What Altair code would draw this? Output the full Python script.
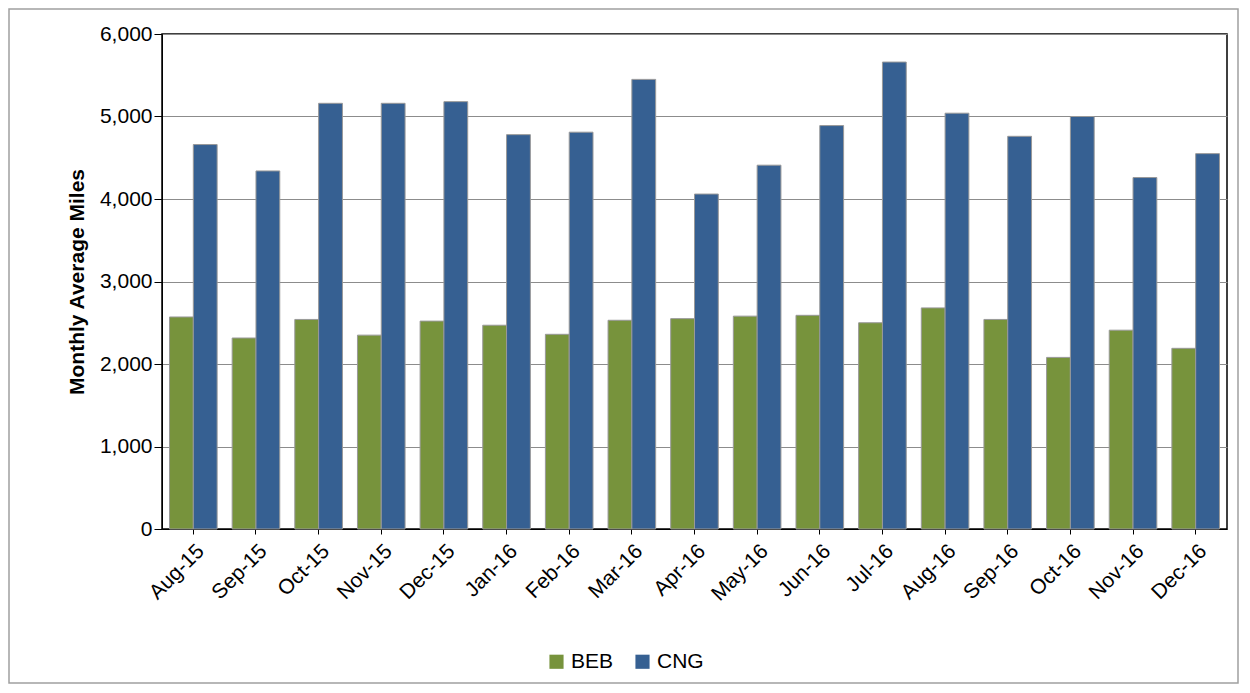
import pandas as pd
import altair as alt

# months and series values
months = ["Aug-15", "Sep-15", "Oct-15", "Nov-15", "Dec-15", "Jan-16", "Feb-16", "Mar-16", "Apr-16",
          "May-16", "Jun-16", "Jul-16", "Aug-16", "Sep-16", "Oct-16", "Nov-16", "Dec-16"]
beb = [2570, 2315, 2540, 2350, 2520, 2470, 2360, 2530, 2550, 2580, 2590, 2500, 2680, 2540, 2080, 2410, 2190]
cng = [4660, 4340, 5160, 5160, 5180, 4780, 4810, 5450, 4060, 4410, 4890, 5660, 5040, 4760, 5000, 4260, 4550]

df = pd.concat([
    pd.DataFrame({"month": months, "fuel": "BEB", "miles": beb}),
    pd.DataFrame({"month": months, "fuel": "CNG", "miles": cng}),
])

font = "Liberation Sans"

bars = (
    alt.Chart(df)
    .mark_bar(stroke="#999999", strokeWidth=1)
    .encode(
        x=alt.X("month:N", sort=months, title=None,
                scale=alt.Scale(paddingInner=0.24, paddingOuter=0.12),
                axis=alt.Axis(labelAngle=-45, labelFontSize=21, labelColor="black",
                              domainColor="black", tickColor="black", labelPadding=6)),
        xOffset=alt.XOffset("fuel:N", sort=["BEB", "CNG"]),
        y=alt.Y("miles:Q", title="Monthly Average Miles",
                scale=alt.Scale(domain=[0, 6000]),
                axis=alt.Axis(values=list(range(0, 6001, 1000)), format=",.0f", labelFontSize=21,
                              labelColor="black", titleFontSize=21, titleFontWeight="bold",
                              titleColor="black", gridColor="#8c8c8c", domainColor="black",
                              tickColor="black", tickSize=8, titlePadding=12)),
        color=alt.Color("fuel:N", sort=["BEB", "CNG"],
                        scale=alt.Scale(domain=["BEB", "CNG"], range=["#77933C", "#366092"]),
                        legend=alt.Legend(title=None, orient="none", legendX=384, legendY=617,
                                          direction="horizontal", symbolType="square",
                                          symbolSize=200, symbolStrokeWidth=0, labelFontSize=21,
                                          labelColor="black", columnPadding=18)),
    )
)

# grey frame around the whole picture
frame = alt.Chart(pd.DataFrame({"a": [0]})).mark_rect(fill=None, stroke="#a0a0a0", strokeWidth=1.5).encode(
    x=alt.value(-153), x2=alt.value(1076), y=alt.value(-25), y2=alt.value(649)
)

chart = (
    alt.layer(bars, frame)
    .properties(width=1065, height=495,
                autosize=alt.AutoSizeParams(type="none"),
                padding={"left": 154, "top": 26, "right": 14, "bottom": 155})
    .configure(font=font)
    .configure_view(stroke="black", strokeWidth=1.5)
)

chart.save("out.html", embed_options={"renderer": "svg", "actions": False})
